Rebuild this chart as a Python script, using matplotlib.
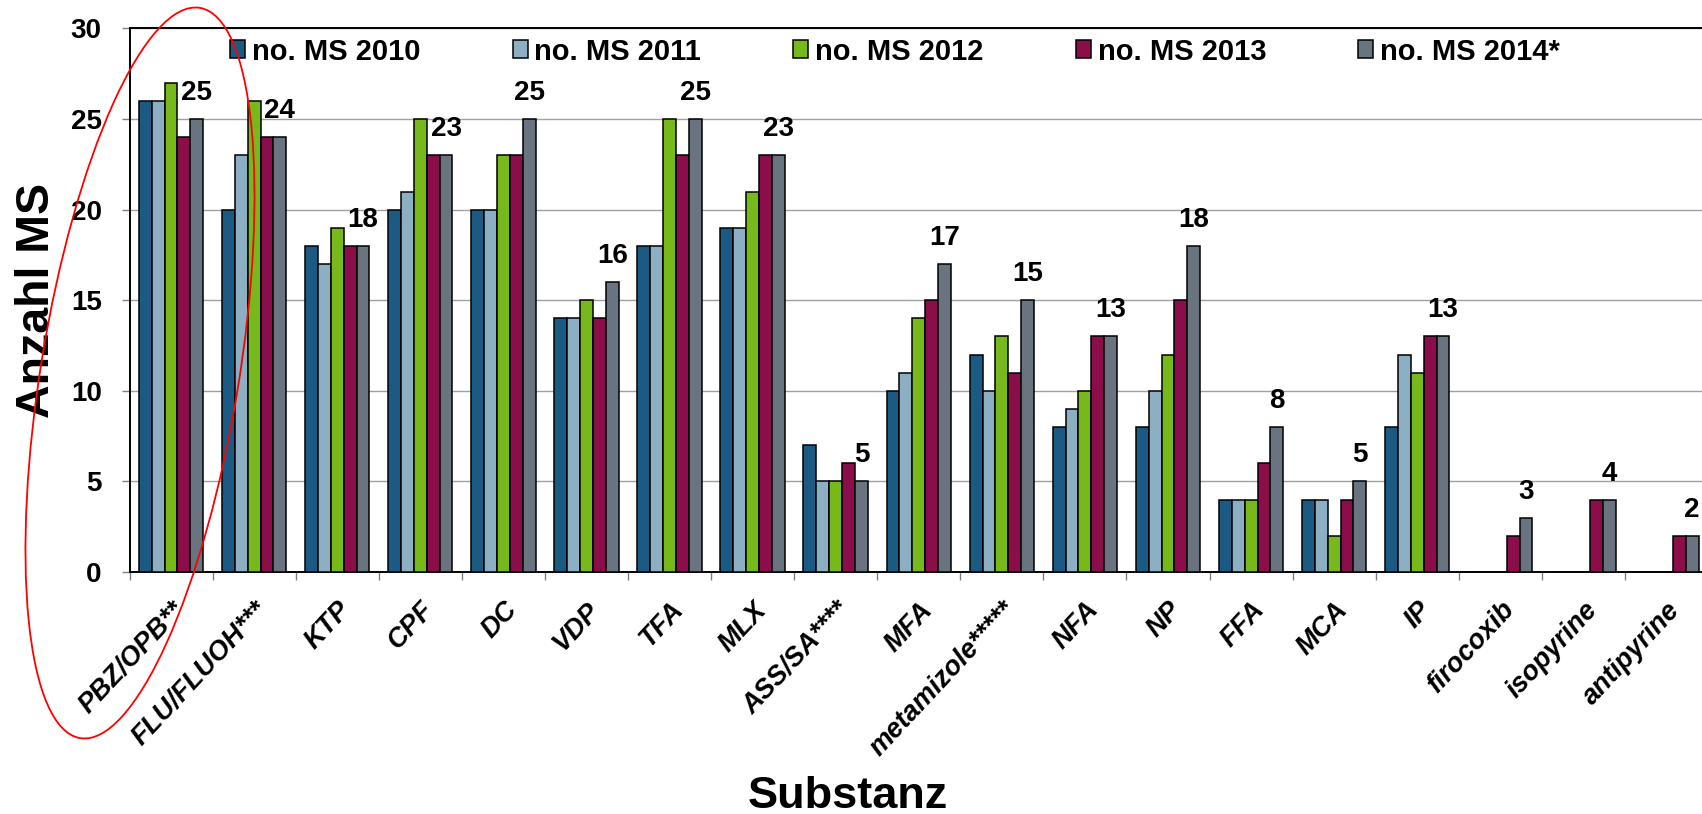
import numpy as np
import matplotlib
matplotlib.use("Agg")
import matplotlib.pyplot as plt
from matplotlib.patches import Ellipse
from matplotlib.transforms import IdentityTransform

plt.rcParams["font.family"] = ["Liberation Sans", "DejaVu Sans"]
plt.rcParams["font.weight"] = "bold"

substances = ["PBZ/OPB**", "FLU/FLUOH***", "KTP", "CPF", "DC", "VDP", "TFA", "MLX",
              "ASS/SA****", "MFA", "metamizole*****", "NFA", "NP", "FFA", "MCA", "IP",
              "firocoxib", "isopyrine", "antipyrine"]
ms_2010 = [26, 20, 18, 20, 20, 14, 18, 19, 7, 10, 12, 8, 8, 4, 4, 8, 0, 0, 0]
ms_2011 = [26, 23, 17, 21, 20, 14, 18, 19, 5, 11, 10, 9, 10, 4, 4, 12, 0, 0, 0]
ms_2012 = [27, 26, 19, 25, 23, 15, 25, 21, 5, 14, 13, 10, 12, 4, 2, 11, 0, 0, 0]
ms_2013 = [24, 24, 18, 23, 23, 14, 23, 23, 6, 15, 11, 13, 15, 6, 4, 13, 2, 4, 2]
ms_2014 = [25, 24, 18, 23, 25, 16, 25, 23, 5, 17, 15, 13, 18, 8, 5, 13, 3, 4, 2]

series = [
    ("no. MS 2010", ms_2010, "#1b5a83"),
    ("no. MS 2011", ms_2011, "#8cafc4"),
    ("no. MS 2012", ms_2012, "#77b81a"),
    ("no. MS 2013", ms_2013, "#8b0e4a"),
    ("no. MS 2014*", ms_2014, "#6a7480"),
]

W, H = 1702, 814
fig = plt.figure(figsize=(W / 100, H / 100), dpi=100)
# plot area in pixels: left 129.5, right 1708 (runs off the edge), y from 28.5 to 572
ax = fig.add_axes([129.5 / W, (H - 572) / H, (1708 - 129.5) / W, (572 - 28.5) / H])

x = np.arange(len(substances))
bw = 0.155
for i, (name, vals, col) in enumerate(series):
    ax.bar(x + (i - 2) * bw, vals, bw, color=col, edgecolor="black",
           linewidth=1.1, label=name, zorder=3)

# value of the latest year above its bar
for xi, v in zip(x, ms_2014):
    ax.annotate(str(v), (xi + 2 * bw, v), xytext=(0, 13.7), textcoords="offset points",
                ha="center", va="baseline", fontsize=20, fontweight="bold",
                annotation_clip=False)

ax.set_xlim(-0.5, len(substances) - 0.5)
ax.set_ylim(0, 30)
ax.set_yticks(np.arange(0, 31, 5))
ax.yaxis.grid(True, color="#a0a0a0", linewidth=1.0)
ax.set_axisbelow(True)

ax.set_xticks(x)
ax.set_xticklabels(substances, rotation=47, ha="right", va="top",
                   rotation_mode="anchor", fontsize=19.5, fontstyle="italic",
                   fontweight="bold")
ax.set_xticks(np.arange(len(substances) + 1) - 0.5, minor=True)
ax.tick_params(axis="x", which="major", length=0, pad=18)
ax.tick_params(axis="x", which="minor", length=6, color="#808080", width=1)
ax.tick_params(axis="y", length=6, color="#808080", width=1, pad=14, labelsize=20)
for lab in ax.get_yticklabels():
    lab.set_fontweight("bold")

for side in ["left", "bottom", "top", "right"]:
    ax.spines[side].set_color("black")
    ax.spines[side].set_linewidth(1.4)

fs_leg = 21
px = fs_leg / 72 * 100  # legend font size in pixels
ax.legend(loc="center left", bbox_to_anchor=(230 / W, 1 - 51.5 / H),
          bbox_transform=fig.transFigure, ncol=5, frameon=False,
          prop={"size": fs_leg, "weight": "bold"}, borderpad=0, borderaxespad=0,
          handlelength=15 / px, handleheight=17 / px, handletextpad=7 / px,
          columnspacing=92 / px)

fig.text(37.5 / W, 1 - 300 / H, "Anzahl MS", rotation=90, ha="center", va="center",
         fontsize=33.5, fontweight="bold")
fig.text(848 / W, 1 - 808 / H, "Substanz", ha="center", va="baseline",
         fontsize=32.5, fontweight="bold")

# red ring drawn around the first two groups (pixel coordinates, origin bottom-left)
ring = Ellipse((140, H - 373), 198, 740, angle=-9.3, transform=IdentityTransform(),
               fill=False, edgecolor="red", linewidth=1.3, zorder=10)
fig.add_artist(ring)

fig.savefig("out.png", dpi=100)
